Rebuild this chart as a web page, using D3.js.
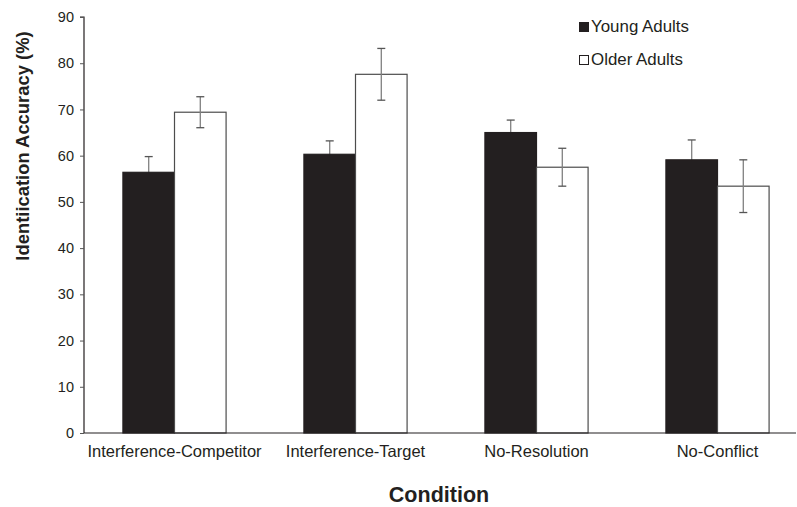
<!DOCTYPE html>
<html><head><meta charset="utf-8">
<script src="https://cdn.jsdelivr.net/npm/d3@7"></script>
<style>body{margin:0;background:#fff}svg{display:block;font-family:Arial,"Liberation Sans",Helvetica,sans-serif}</style>
</head><body><svg id="c" width="797" height="507"></svg>
<script>
const categories = ["Interference-Competitor","Interference-Target","No-Resolution","No-Conflict"];
const seriesNames = ["Young Adults","Older Adults"];
const youngValues = [56.4, 60.3, 65.0, 59.1];
const youngErrors = [3.4, 2.9, 2.7, 4.3];
const olderValues = [69.4, 77.6, 57.5, 53.4];
const olderErrors = [3.35, 5.6, 4.1, 5.7];
const yTicks = [0,10,20,30,40,50,60,70,80,90];

(function(){
const svg = d3.select("#c");
const mLeft = 84, mTop = 17, mBottom = 433, bandRight = 808;
const y = d3.scaleLinear().domain([0,90]).range([mBottom, mTop]);
const x0 = d3.scaleBand().domain(categories).range([mLeft, bandRight]).paddingInner(0.43).paddingOuter(0.215);
const x1 = d3.scaleBand().domain(seriesNames).range([0, x0.bandwidth()]);
const fills = {"Young Adults":"#231f20","Older Adults":"#ffffff"};

const data = categories.map((c,i)=>({c, vals:[
  {s:"Young Adults", v:youngValues[i], e:youngErrors[i]},
  {s:"Older Adults", v:olderValues[i], e:olderErrors[i]}]}));

// y axis
const yAxis = d3.axisLeft(y).tickValues(yTicks).tickSize(4).tickPadding(6);
const gy = svg.append("g").attr("transform",`translate(${mLeft},0)`).call(yAxis);
gy.select(".domain").attr("stroke","#231f20").attr("stroke-width",1.2).attr("d",`M-4,${mTop}H0V${mBottom}`);
gy.selectAll(".tick line").attr("stroke","#555");
gy.selectAll(".tick text").attr("font-size","14.5px").attr("fill","#231f20").attr("font-family","Arial, Liberation Sans, sans-serif");

const g = svg.append("g");
function drawErr(d, b){
  const cx = x0(d.c)+x1(b.s)+x1.bandwidth()/2;
  const eg = g.append("g").attr("stroke","#808080").attr("stroke-width",1.3);
  eg.append("line").attr("x1",cx).attr("x2",cx).attr("y1",y(b.v+b.e)).attr("y2",y(b.v-b.e));
  eg.append("line").attr("x1",cx-4).attr("x2",cx+4).attr("y1",y(b.v+b.e)).attr("y2",y(b.v+b.e)).attr("stroke","#555");
  eg.append("line").attr("x1",cx-4).attr("x2",cx+4).attr("y1",y(b.v-b.e)).attr("y2",y(b.v-b.e)).attr("stroke","#555");
}
function drawBar(d, b){
  const bx = x0(d.c)+x1(b.s);
  g.append("rect").attr("x",bx).attr("y",y(b.v)).attr("width",x1.bandwidth()).attr("height",y(0)-y(b.v))
    .attr("fill",fills[b.s]).attr("stroke",b.s==="Young Adults"?"#231f20":"#4d4d4d").attr("stroke-width",1.2);
}
// young: error bars beneath the dark bars (lower half hidden); older: error bars on top
data.forEach(d=>drawErr(d, d.vals[0]));
data.forEach(d=>drawBar(d, d.vals[0]));
data.forEach(d=>drawBar(d, d.vals[1]));
data.forEach(d=>drawErr(d, d.vals[1]));

// x axis
const xAxis = d3.axisBottom(x0).tickSize(0).tickPadding(12);
const gx = svg.append("g").attr("transform",`translate(0,${mBottom})`).call(xAxis);
gx.select(".domain").attr("stroke","#231f20").attr("stroke-width",1.2).attr("d",`M${mLeft},0H796`);
gx.selectAll(".tick text").attr("font-size","16.5px").attr("fill","#231f20").attr("font-family","Arial, Liberation Sans, sans-serif").attr("dy","0.71em");

// titles
svg.append("text").attr("x",439).attr("y",502).attr("text-anchor","middle").attr("font-weight","bold").attr("font-size","21.5px").attr("fill","#231f20").text("Condition");
svg.append("text").attr("transform","translate(29,146) rotate(-90)").attr("text-anchor","middle").attr("font-weight","bold").attr("font-size","18.4px").attr("fill","#231f20").text("Identiication Accuracy (%)");

// legend
const lg = svg.append("g");
seriesNames.forEach((s,i)=>{
  const ly = 32 + i*33;
  lg.append("rect").attr("x",579.5).attr("y",ly-9.5).attr("width",9).attr("height",9).attr("fill",fills[s]).attr("stroke","#231f20").attr("stroke-width",1);
  lg.append("text").attr("x",591).attr("y",ly).attr("font-size","16.9px").attr("fill","#231f20").text(s);
});
})();
</script></body></html>
